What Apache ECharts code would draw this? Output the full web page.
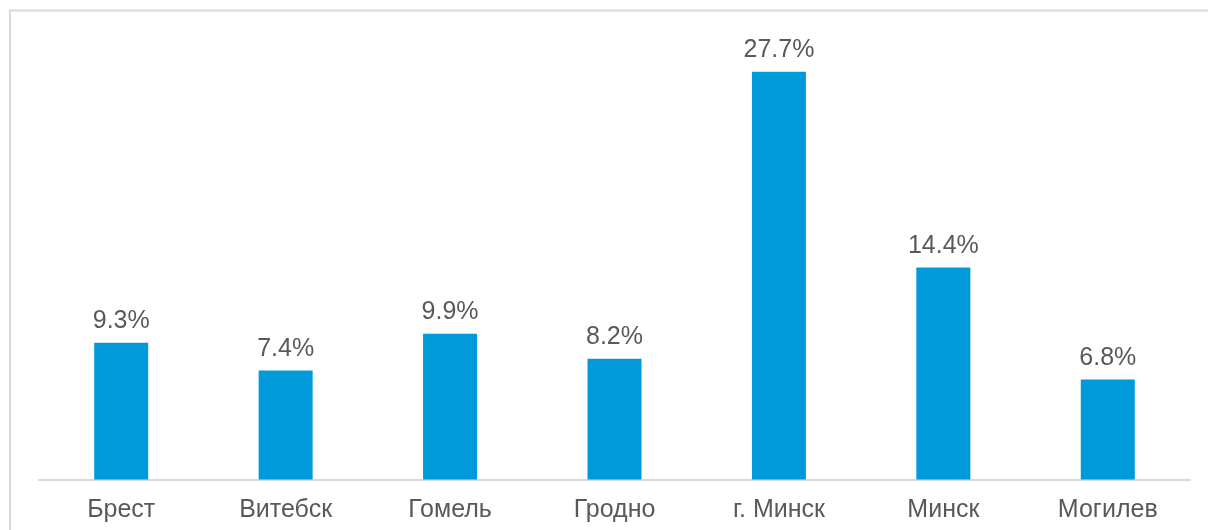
<!DOCTYPE html>
<html>
<head>
<meta charset="utf-8">
<script src="https://cdn.jsdelivr.net/npm/echarts@6/dist/echarts.min.js"></script>
<style>
  html, body { margin: 0; padding: 0; background: #ffffff; }
  #chart { width: 1208px; height: 530px; }
</style>
</head>
<body>
<div id="chart"></div>
<script>
// Regions and their shares, %
const categories = ['Брест', 'Витебск', 'Гомель', 'Гродно', 'г. Минск', 'Минск', 'Могилев'];
const shares = [9.3, 7.4, 9.9, 8.2, 27.7, 14.4, 6.8];

const chart = echarts.init(document.getElementById('chart'), null, { renderer: 'canvas' });

const font = '"Liberation Sans", Arial, sans-serif';

chart.setOption({
  animation: false,
  backgroundColor: '#ffffff',
  graphic: [{
    type: 'rect',
    shape: { x: 10, y: 10.5, width: 1400, height: 700 },
    style: { fill: 'none', stroke: '#d9d9d9', lineWidth: 2 },
    silent: true
  }],
  grid: { left: 39, right: 18, top: 38, bottom: 50.5, containLabel: false },
  xAxis: {
    type: 'category',
    data: categories,
    axisLine: { lineStyle: { color: '#d9d9d9', width: 2 } },
    axisTick: { show: false },
    axisLabel: { color: '#595959', fontSize: 25, fontFamily: font, margin: 18 }
  },
  yAxis: {
    type: 'value',
    min: 0,
    max: 30,
    show: false,
    splitLine: { show: false }
  },
  series: [{
    type: 'bar',
    data: shares,
    barWidth: 54,
    itemStyle: { color: '#009ADA' },
    label: {
      show: true,
      position: 'top',
      distance: 9,
      color: '#595959',
      fontSize: 25,
      fontFamily: font,
      formatter: p => p.value.toFixed(1) + '%'
    }
  }]
});
</script>
</body>
</html>
